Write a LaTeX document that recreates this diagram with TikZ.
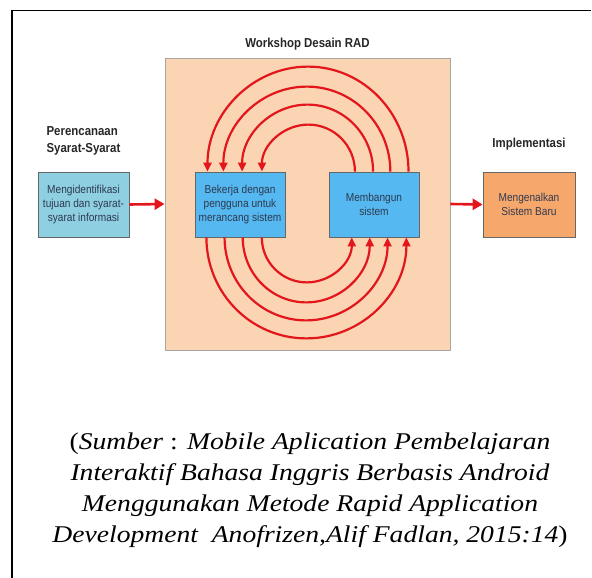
\documentclass[tikz,border=0pt]{standalone}
\usepackage{fontspec}
\setmainfont{Liberation Serif}
\newfontfamily\diagfont[FakeStretch=0.88]{Liberation Sans}
\newfontfamily\sourcefont[FakeStretch=1.15]{Liberation Serif}
\usepackage{xcolor}
\usepackage{tikz}
\usetikzlibrary{calc,positioning,arrows.meta,shadows}

\definecolor{peach}{HTML}{FBD4B4}
\definecolor{paleblue}{HTML}{8ECFE2}
\definecolor{skyblue}{HTML}{55B8F0}
\definecolor{orangebox}{HTML}{F6A86C}
\definecolor{arrowred}{HTML}{E3161C}
\definecolor{boxtext}{HTML}{2E3950}

\begin{document}
\begin{tikzpicture}[x=1pt, y=-1pt, align=center,
    phasebox/.style={draw=gray!80!black, line width=0.8pt, minimum width=90pt, minimum height=65pt,
        inner sep=2pt, font=\diagfont\fontsize{11.5}{14}\selectfont, text=boxtext,
        drop shadow={shadow xshift=1.2pt, shadow yshift=-1.2pt, opacity=0.25}},
    phasetitle/.style={font=\diagfont\bfseries\fontsize{13}{17}\selectfont, text=black!85},
    flow/.style={draw=arrowred, line width=2.6pt, -{Triangle[length=10pt, width=11pt]}},
    loop/.style={draw=arrowred, line width=2.2pt, -{Triangle[length=9pt, width=8pt]}}]
        \useasboundingbox (0,0) rectangle (592,578);

        % frame
        \draw[line width=1.2pt] (12,10.5) -- (591,10.5);
        \draw[line width=2.6pt] (12,10) -- (12,578);

        \node [draw=gray!70, fill=peach, line width=0.8pt, minimum width=285pt, minimum height=292pt] (workshop) at (307.5,204) {};
        \node [phasetitle, above=4pt of workshop] (workshoptitle) {Workshop Desain RAD};

        \node [phasebox, fill=paleblue, minimum width=91pt] (plan) at (83.5,204.5) {Mengidentifikasi\\tujuan dan syarat-\\syarat informasi};
        \node [phasetitle, above=13pt of plan, align=left] (plantitle) {Perencanaan\\Syarat-Syarat};

        \node [phasebox, fill=skyblue] (design) at (240,204.5) {Bekerja dengan\\pengguna untuk\\merancang sistem};
        \node [phasebox, fill=skyblue] (build) at (374,204.5) {Membangun\\sistem};

        \node [phasebox, fill=orangebox, minimum width=92pt] (intro) at (529,204.5) {Mengenalkan\\Sistem Baru};
        \node [phasetitle, above=18pt of intro] (introtitle) {Implementasi};

        \draw[flow] (plan.east) -- (workshop.west);
        \draw[flow] (workshop.east) -- (intro.west);

        % upper loops: build -> design
        \draw[loop] ($(build.north west)!0.29!(build.north east)$) arc[start angle=0, end angle=-180, x radius=46.5, y radius=47];
        \draw[loop] ($(build.north west)!0.49!(build.north east)$) arc[start angle=0, end angle=-180, x radius=65.5, y radius=67];
        \draw[loop] ($(build.north west)!0.68!(build.north east)$) arc[start angle=0, end angle=-180, x radius=83.5, y radius=85];
        \draw[loop] ($(build.north west)!0.88!(build.north east)$) arc[start angle=0, end angle=-180, x radius=100.5, y radius=105];

        % lower loops: design -> build
        \draw[loop] ($(design.south west)!0.74!(design.south east)$) arc[start angle=180, end angle=0, x radius=45, y radius=45];
        \draw[loop] ($(design.south west)!0.53!(design.south east)$) arc[start angle=180, end angle=0, x radius=63.5, y radius=65];
        \draw[loop] ($(design.south west)!0.33!(design.south east)$) arc[start angle=180, end angle=0, x radius=81.5, y radius=83];
        \draw[loop] ($(design.south west)!0.13!(design.south east)$) arc[start angle=180, end angle=0, x radius=100, y radius=101];

        \node [font=\sourcefont\fontsize{24}{31}\selectfont] (source) at (310,490)
            {(\textit{Sumber} : \textit{Mobile Aplication Pembelajaran}\\
             \textit{Interaktif Bahasa Inggris Berbasis Android}\\
             \textit{Menggunakan Metode Rapid Application}\\
             \textit{Development~ Anofrizen,Alif Fadlan, 2015:14})};
    \end{tikzpicture}
\end{document}
